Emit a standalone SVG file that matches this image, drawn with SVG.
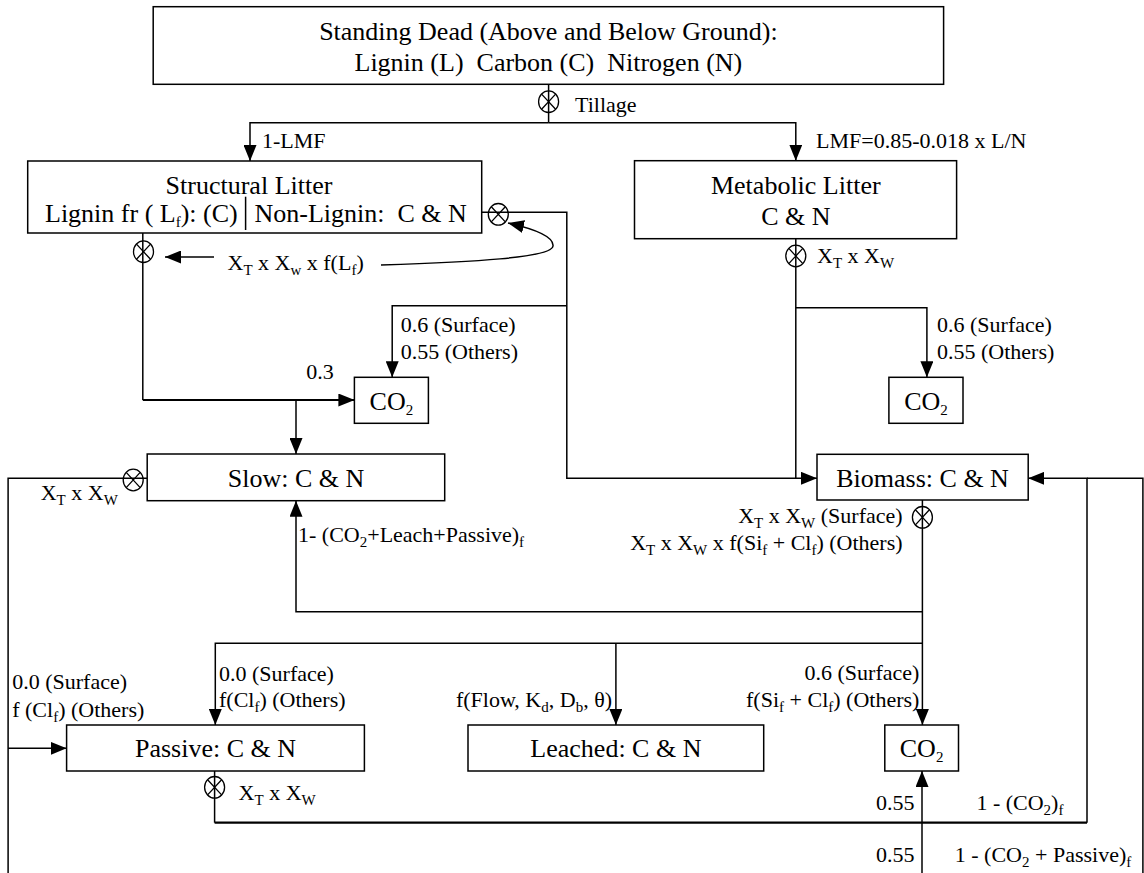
<svg xmlns="http://www.w3.org/2000/svg" width="1144" height="873" viewBox="0 0 1144 873" font-family="Liberation Serif, Times New Roman, DejaVu Serif, serif">
<style>
text{white-space:pre;fill:#000}
.n{font-size:26px}
.l{font-size:22px}
.m{text-anchor:middle}
.e{text-anchor:end}
.s{font-size:15px}
.box{fill:#fff;stroke:#000;stroke-width:1.5}
.c{fill:none;stroke:#000;stroke-width:1.5}
.t{stroke-width:2.2}
.a{marker-end:url(#arr)}
</style>
<defs>
<marker id="arr" viewBox="0 0 16 13" refX="16" refY="6.5" markerWidth="16" markerHeight="13" orient="auto" markerUnits="userSpaceOnUse"><path d="M0,0 L16,6.5 L0,13 z" fill="#000"/></marker>
<g id="ot"><ellipse cx="0" cy="0" rx="10" ry="10.8" fill="none" stroke="#000" stroke-width="1.3"/><path d="M-7,-7.6 L7,7.6 M7,-7.6 L-7,7.6" stroke="#000" stroke-width="1.3"/></g>
</defs>
<rect width="1144" height="873" fill="#fff"/>
<g id="connectors">
<path class="c" d="M548.6,84.3 V122.7"/>
<path class="c a" d="M548.6,122.7 H250 V161"/>
<path class="c a" d="M548.6,122.7 H795.8 V160.7"/>
<path class="c a" d="M481.7,212.3 H566.8 V478.3 H817"/>
<path class="c" d="M795.8,238.7 V478.3"/>
<path class="c a" d="M795.8,307.7 H926.9 V377.3"/>
<path class="c" d="M142.8,233 V400"/>
<path class="c t a" d="M142.8,400 H354.4"/>
<path class="c a" d="M296,400 V454"/>
<path class="c a" d="M566.8,305.7 H392.2 V377.3"/>
<path class="c" d="M147.2,478.3 H8.1 V873"/>
<path class="c a" d="M8.1,748.3 H66.6"/>
<path class="c a" d="M922.4,500 V725"/>
<path class="c a" d="M922.4,611.7 H296 V500.7"/>
<path class="c a" d="M922.4,643.3 H215.3 V725"/>
<path class="c a" d="M615.9,643.3 V725"/>
<path class="c" d="M214.6,771 V822.7"/>
<path class="c t" d="M214.6,822.7 H1087"/>
<path class="c a" d="M1087,822.7 V478.3 H1028.2"/>
<path class="c" d="M1142.9,873 V478.3 H1087"/>
<path class="c a" d="M922,873 V771"/>
<path class="c a" d="M214,257 H165"/>
<path class="c a" d="M381,265 C470,262 552,258 553,246 C554,236 530,228 508,223"/>
</g>
<g id="standing-dead">
<rect class="box" x="153.2" y="6.7" width="790.4" height="77.6"/>
<text class="n m" x="548.4" y="40">Standing Dead (Above and Below Ground):</text>
<text class="n m" x="548.4" y="71">Lignin (L)  Carbon (C)  Nitrogen (N)</text>
</g>
<g id="tillage">
<use href="#ot" x="548.6" y="101.7"/>
<text class="l" x="575" y="111.7">Tillage</text>
<text class="l" x="262" y="148.3">1-LMF</text>
<text class="l" x="816" y="148.3">LMF=0.85-0.018 x L/N</text>
</g>
<g id="structural-litter">
<rect class="box" x="27.7" y="161" width="454" height="72"/>
<text class="n m" x="249" y="194">Structural Litter</text>
<text class="n" x="45" y="221.7">Lignin fr ( L<tspan class="s" dy="5">f</tspan><tspan dy="-5">): (C)</tspan></text>
<path d="M245.6,196.7 V230" stroke="#000" stroke-width="1.5"/>
<text class="n" x="254.5" y="221.7">Non-Lignin:  C &amp; N</text>
<use href="#ot" x="498.3" y="214.3"/>
<use href="#ot" x="143.5" y="251.7"/>
<text class="l" x="227.5" y="270">X<tspan class="s" dy="5">T</tspan><tspan dy="-5"> x X</tspan><tspan class="s" dy="5">w</tspan><tspan dy="-5"> x f(L</tspan><tspan class="s" dy="5">f</tspan><tspan dy="-5">)</tspan></text>
</g>
<g id="metabolic-litter">
<rect class="box" x="634.5" y="160.7" width="322.1" height="78"/>
<text class="n m" x="795.8" y="194">Metabolic Litter</text>
<text class="n m" x="795.8" y="225">C &amp; N</text>
<use href="#ot" x="795.8" y="256"/>
<text class="l" x="817" y="263.3">X<tspan class="s" dy="5">T</tspan><tspan dy="-5"> x X</tspan><tspan class="s" dy="5">W</tspan></text>
</g>
<g id="co2-structural">
<rect class="box" x="354.4" y="377.3" width="74" height="46"/>
<text class="n m" x="391.4" y="410">CO<tspan class="s" dy="5">2</tspan></text>
<text class="l" x="306.3" y="379.3">0.3</text>
<text class="l" x="400.7" y="331.7">0.6 (Surface)</text>
<text class="l" x="400.7" y="359">0.55 (Others)</text>
</g>
<g id="co2-metabolic">
<rect class="box" x="888.9" y="377.3" width="74.1" height="46"/>
<text class="n m" x="926" y="410">CO<tspan class="s" dy="5">2</tspan></text>
<text class="l" x="937" y="331.7">0.6 (Surface)</text>
<text class="l" x="937" y="359">0.55 (Others)</text>
</g>
<g id="slow">
<rect class="box" x="147.2" y="454" width="297.5" height="46.7"/>
<text class="n m" x="296" y="487.3">Slow: C &amp; N</text>
<use href="#ot" x="133.2" y="480"/>
<text class="l" x="40.7" y="500">X<tspan class="s" dy="5">T</tspan><tspan dy="-5"> x X</tspan><tspan class="s" dy="5">W</tspan></text>
<text class="l" x="298" y="541.7">1- (CO<tspan class="s" dy="5">2</tspan><tspan dy="-5">+Leach+Passive)</tspan><tspan class="s" dy="5">f</tspan></text>
</g>
<g id="biomass">
<rect class="box" x="817" y="454.3" width="211.2" height="45.7"/>
<text class="n m" x="922.6" y="487">Biomass: C &amp; N</text>
<use href="#ot" x="922.4" y="517.3"/>
<text class="l e" x="902.6" y="522.7">X<tspan class="s" dy="5">T</tspan><tspan dy="-5"> x X</tspan><tspan class="s" dy="5">W</tspan><tspan dy="-5"> (Surface)</tspan></text>
<text class="l e" x="902.6" y="550">X<tspan class="s" dy="5">T</tspan><tspan dy="-5"> x X</tspan><tspan class="s" dy="5">W</tspan><tspan dy="-5"> x f(Si</tspan><tspan class="s" dy="5">f</tspan><tspan dy="-5"> + Cl</tspan><tspan class="s" dy="5">f</tspan><tspan dy="-5">) (Others)</tspan></text>
</g>
<g id="passive">
<rect class="box" x="66.6" y="725" width="297.8" height="46"/>
<text class="n m" x="215.5" y="756.7">Passive: C &amp; N</text>
<use href="#ot" x="214.6" y="787.3"/>
<text class="l" x="238.6" y="800">X<tspan class="s" dy="5">T</tspan><tspan dy="-5"> x X</tspan><tspan class="s" dy="5">W</tspan></text>
<text class="l" x="12.2" y="689.3">0.0 (Surface)</text>
<text class="l" x="12.2" y="716.7">f (Cl<tspan class="s" dy="5">f</tspan><tspan dy="-5">) (Others)</tspan></text>
<text class="l" x="219" y="680.7">0.0 (Surface)</text>
<text class="l" x="219" y="706.7">f(Cl<tspan class="s" dy="5">f</tspan><tspan dy="-5">) (Others)</tspan></text>
</g>
<g id="leached">
<rect class="box" x="468" y="725" width="295.7" height="46"/>
<text class="n m" x="615.9" y="756.7">Leached: C &amp; N</text>
<text class="l e" x="612" y="706.7">f(Flow, K<tspan class="s" dy="5">d</tspan><tspan dy="-5">, D</tspan><tspan class="s" dy="5">b</tspan><tspan dy="-5">, θ)</tspan></text>
</g>
<g id="co2-biomass">
<rect class="box" x="884.8" y="725" width="73.7" height="46"/>
<text class="n m" x="921.6" y="757">CO<tspan class="s" dy="5">2</tspan></text>
<text class="l e" x="919.4" y="680">0.6 (Surface)</text>
<text class="l e" x="919.4" y="706.7">f(Si<tspan class="s" dy="5">f</tspan><tspan dy="-5"> + Cl</tspan><tspan class="s" dy="5">f</tspan><tspan dy="-5">) (Others)</tspan></text>
<text class="l e" x="914.6" y="810">0.55</text>
<text class="l" x="976.4" y="810">1 - (CO<tspan class="s" dy="5">2</tspan><tspan dy="-5">)</tspan><tspan class="s" dy="5">f</tspan></text>
<text class="l e" x="914.6" y="861.7">0.55</text>
<text class="l" x="954.8" y="861.7">1 - (CO<tspan class="s" dy="5">2</tspan><tspan dy="-5"> + Passive)</tspan><tspan class="s" dy="5">f</tspan></text>
</g>
</svg>
